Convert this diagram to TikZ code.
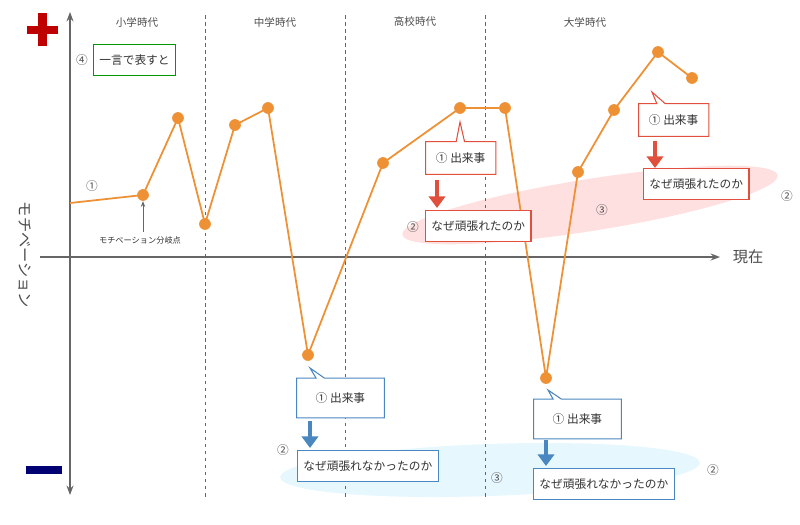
\documentclass[tikz,border=0pt]{standalone}
\usepackage{fontspec}
\newfontfamily\jp{Noto Sans CJK JP}
\usetikzlibrary{arrows.meta,shapes.callouts}
\definecolor{org}{HTML}{EE9034}
\definecolor{rd}{HTML}{E0503C}
\definecolor{bl}{HTML}{4A86C0}
\definecolor{ax}{HTML}{666666}
\begin{document}
\begin{tikzpicture}[x=0.03cm,y=-0.03cm,font=\jp\fontsize{9}{10}\selectfont,
 dot/.style={circle,fill=org,inner sep=0pt,minimum size=10pt},
 rbox/.style={draw=rd,fill=white,line width=0.9pt,minimum height=26pt,inner sep=5pt,anchor=west,text=black!80,font=\jp\fontsize{10}{11}\selectfont},
 bbox/.style={rbox,draw=bl},
 rcall/.style={rectangle callout,draw=rd,fill=white,line width=0.9pt,minimum width=60pt,minimum height=28pt,anchor=west,text=black!80,font=\jp\fontsize{10}{11}\selectfont},
 bcall/.style={rcall,draw=bl,minimum width=75pt,minimum height=34pt},
 bigarr/.style={-{Triangle[width=14pt,length=10pt]},line width=4pt},
 lbl/.style={text=black!70,font=\jp\fontsize{10}{11}\selectfont}]
\useasboundingbox (0,0) rectangle (800,525);
% ellipses
\fill[red!12,rotate around={9:(590,205)}] (590,205) ellipse [x radius=190, y radius=26];
\fill[cyan!10,rotate around={2:(490,470)}] (490,470) ellipse [x radius=210, y radius=26];
% dashed
\foreach \x in {205,345,485} \draw[ax,dashed,line width=0.8pt] (\x,15)--(\x,500);
\node[lbl,font=\jp\fontsize{9}{10}\selectfont] (p1) at (137,22) {小学時代};
\node[lbl,font=\jp\fontsize{9}{10}\selectfont] (p2) at (275,22) {中学時代};
\node[lbl,font=\jp\fontsize{9}{10}\selectfont] (p3) at (415,22) {高校時代};
\node[lbl,font=\jp\fontsize{9}{10}\selectfont] (p4) at (585,22) {大学時代};
% axes
\coordinate (yt) at (70,12); \coordinate (yb) at (70,495);
\coordinate (xl) at (40,257); \coordinate (xr) at (720,257);
\draw[ax,line width=1.2pt,{Stealth[length=8pt]}-{Stealth[length=8pt]}] (yt)--(yb);
\draw[ax,line width=1.2pt,-{Stealth[length=8pt]}] (xl)--(xr);
\node[lbl,font=\jp\fontsize{13}{14}\selectfont] (now) at (748,257) {現在};
\node[lbl,font=\jp\fontsize{13}{14}\selectfont,rotate=-90] (mot) at (25,255) {モチベーション};
\fill[red!75!black] (27,26) rectangle (58,34); \fill[red!75!black] (38,13) rectangle (47,46);
\fill[blue!45!black] (26,466) rectangle (62,474);
% line
\draw[org,line width=1.5pt] (70,203)--(143,195)--(178,118)--(205,224)--(235,125)--(268,108)--(308,355)--(383,163)--(460,108)--(505,108)--(546,378)--(578,172)--(614,110)--(658,52)--(692,78);
\foreach \p [count=\i] in {(143,195),(178,118),(205,224),(235,125),(268,108),(308,355),(383,163),(460,108),(505,108),(546,378),(578,172),(614,110),(658,52),(692,78)} \node[dot] (d\i) at \p {};
\node[lbl] (c1) at (92,186) {①};
\node[text=black!80,font=\jp\fontsize{7}{8}\selectfont] (bp) at (140,240) {モチベーション分岐点};
\draw[ax,-{Stealth[length=5pt]},line width=0.8pt] (bp.north -| d1) -- (d1.south);
\node[lbl] (c4) at (82,60) {④};
\node[draw=green!60!black,line width=0.9pt,minimum height=26pt,inner sep=5pt,anchor=west,text=black!80,font=\jp\fontsize{10}{11}\selectfont] (g) at (93,60) {一言で表すと};
% red 1
\node[rcall,callout absolute pointer={(460,122)}] (r1) at (425,158) {① 出来事};
\node[rbox] (r2) at (425,226) {なぜ頑張れたのか};
\draw[rd,bigarr] (437,180)--(437,208);
\node[lbl] (r2n) at (413,227) {②};
\node[lbl] (r3n) at (602,210) {③};
% red 2
\node[rcall,callout absolute pointer={(652,92)}] (r3) at (638,120) {① 出来事};
\node[rbox] (r4) at (643,184) {なぜ頑張れたのか};
\draw[rd,bigarr] (655,141)--(655,168);
\node[lbl] (r4n) at (787,196) {②};
% blue 1
\node[bcall,callout absolute pointer={(310,368)}] (b1) at (296,398) {① 出来事};
\node[bbox] (b2) at (297,466) {なぜ頑張れなかったのか};
\draw[bl,bigarr] (310,421)--(310,448);
\node[lbl] (b2n) at (283,450) {②};
\node[lbl] (b3n) at (497,478) {③};
% blue 2
\node[bcall,callout absolute pointer={(548,390)}] (b3) at (533,419) {① 出来事};
\node[bbox] (b4) at (533,484) {なぜ頑張れなかったのか};
\draw[bl,bigarr] (546,440)--(546,466);
\node[lbl] (b4n) at (713,470) {②};
\end{tikzpicture}
\end{document}
